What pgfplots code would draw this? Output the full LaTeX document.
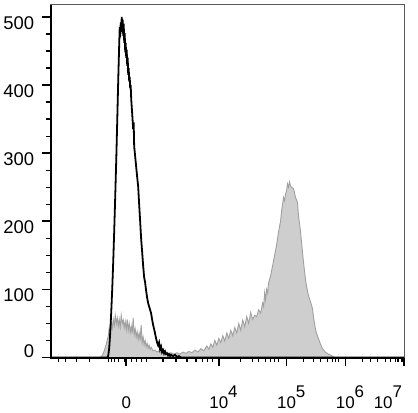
\documentclass[border=0pt]{standalone}
\usepackage{pgfplots}
\pgfplotsset{compat=1.18}
\usepackage{fontspec}
\setmainfont{Liberation Sans}
\definecolor{fillgray}{RGB}{206,206,206}
\definecolor{edgegray}{RGB}{160,160,160}
\definecolor{framegray}{RGB}{90,90,90}
\newcommand{\sx}[1]{10\rlap{\raisebox{0.66em}{#1}}}
\begin{document}
\begin{tikzpicture}
\begin{axis}[
  name=ax,
  scale only axis,
  width=355pt, height=354pt,
  xmin=49, xmax=404, ymin=0, ymax=517.5,
  clip=false,
  axis line style={draw=framegray, line width=1pt},
  tick align=outside,
  xtick pos=bottom, ytick pos=left,
  xtick={125,218,286,345,404},
  xticklabels={0,\sx{4},\sx{5},\sx{6},\makebox[0pt][r]{10\raisebox{0.66em}{7}\hspace{2pt}}},
  minor xtick={57,64,75,88,107,110,113,117,123,130,135,140,145,162,175,186,195,202,207,212,240,252,258,265,270,274,278,303,313,320,327,332,335,338,362,370,377,385,390,395,398,402},
  ytick={0,100,200,300,400,500},
  yticklabels={\raisebox{24pt}{0},100,200,300,400,500},
  minor y tick num=3,
  major tick length=9pt, minor tick length=4.5pt,
  every major tick/.style={black, line width=1.6pt},
  every minor tick/.style={black, line width=1.2pt},
  xticklabel style={font=\fontsize{17}{20}\selectfont, anchor=base, yshift=-42pt},
  yticklabel style={font=\fontsize{18.5}{21}\selectfont, anchor=east, yshift=-6pt, xshift=-4pt},
]
\addplot[fill=fillgray, draw=edgegray, line width=0.9pt] coordinates {
(99,0)(101,3)(103,10)(105,20)(107,32)(108,44)(109,38)(110,52)(111,43)(112,56)
(113,47)(114,62)(115,50)(116,58)(117,46)(118,56)(119,45)(120,62)(121,50)(122,55)
(123,44)(124,53)(125,41)(126,56)(127,40)(128,50)(129,37)(130,46)(131,35)(132,58)
(133,34)(134,42)(135,30)(136,38)(137,27)(138,36)(139,25)(140,48)(141,22)(142,30)
(143,19)(144,25)(145,16)(146,21)(147,14)(148,18)(149,12)(150,15)(152,10)(154,11)
(156,8)(158,10)(160,7)(162,8)(164,6)(166,8)(168,5)(170,7)(173,5)(176,7)
(179,5)(182,8)(185,6)(188,9)(191,7)(194,11)(197,8)(200,13)(203,10)(206,17)
(208,12)(210,20)(212,15)(214,25)(216,18)(218,28)(220,22)(222,32)(224,24)(226,36)
(228,28)(230,40)(232,32)(234,44)(236,36)(238,50)(240,40)(242,55)(244,45)(246,60)
(248,50)(250,66)(252,56)(254,62)(256,60)(258,70)(260,65)(262,80)(263,75)(264,95)
(265,85)(266,100)(267,95)(268,110)(270,120)(272,135)(274,150)(276,165)(278,185)(280,200)
(281,215)(282,225)(283,235)(284,230)(285,240)(286,245)(287,255)(288,250)(289,258)(290,252)
(291,250)(293,248)(295,235)(297,228)(298,208)(300,185)(302,155)(303,140)(305,115)(306,105)
(308,91)(310,82)(312,72)(313,60)(315,42)(316,36)(318,28)(320,20)(322,13)(325,8)
(328,5)(331,3)(334,0)
} \closedcycle;
\addplot[black, line width=1.8pt] coordinates {
(49,0)(105,0)(106,0)(107,3)(108,15)(109,38)(110,68)(111,102)(112,142)(113,188)(114,238)
(115,290)(116,348)(117,408)(118,462)(118.5,485)(119,470)(119.5,492)(120,478)(120.5,500)(121,488)
(121.5,496)(122,472)(122.5,490)(123,462)(123.5,476)(124,448)(124.5,462)(125,440)(125.5,452)(126,428)
(126.5,440)(127,415)(127.5,425)(128,405)(128.5,412)(129,395)(129.5,400)(130,380)(131,358)(132,335)
(132.5,345)(133,310)(134,295)(135,280)(136,265)(137,251)(138,225)(139,200)(140,174)(141,155)
(142,135)(143,118)(144,110)(145,98)(146,88)(147,80)(148,75)(149,70)(150,65)(151,56)
(152,48)(153,42)(154,35)(155,28)(156,22)(157,18)(158,22)(159,12)(160,16)(161,8)
(162,11)(163,6)(164,9)(165,5)(166,6)(167,3)(168,5)(169,2)(170,4)(172,2)
(174,4)(176,1)(178,2)(180,0)(404,0)
};
\draw[black, line width=2pt] (rel axis cs:0,1) -- (rel axis cs:0,0) -- (rel axis cs:1,0);
\end{axis}
\path (ax.south west) ++(-49pt,-55pt) rectangle ([shift={(14pt,5pt)}]ax.north east);
\end{tikzpicture}
\end{document}
